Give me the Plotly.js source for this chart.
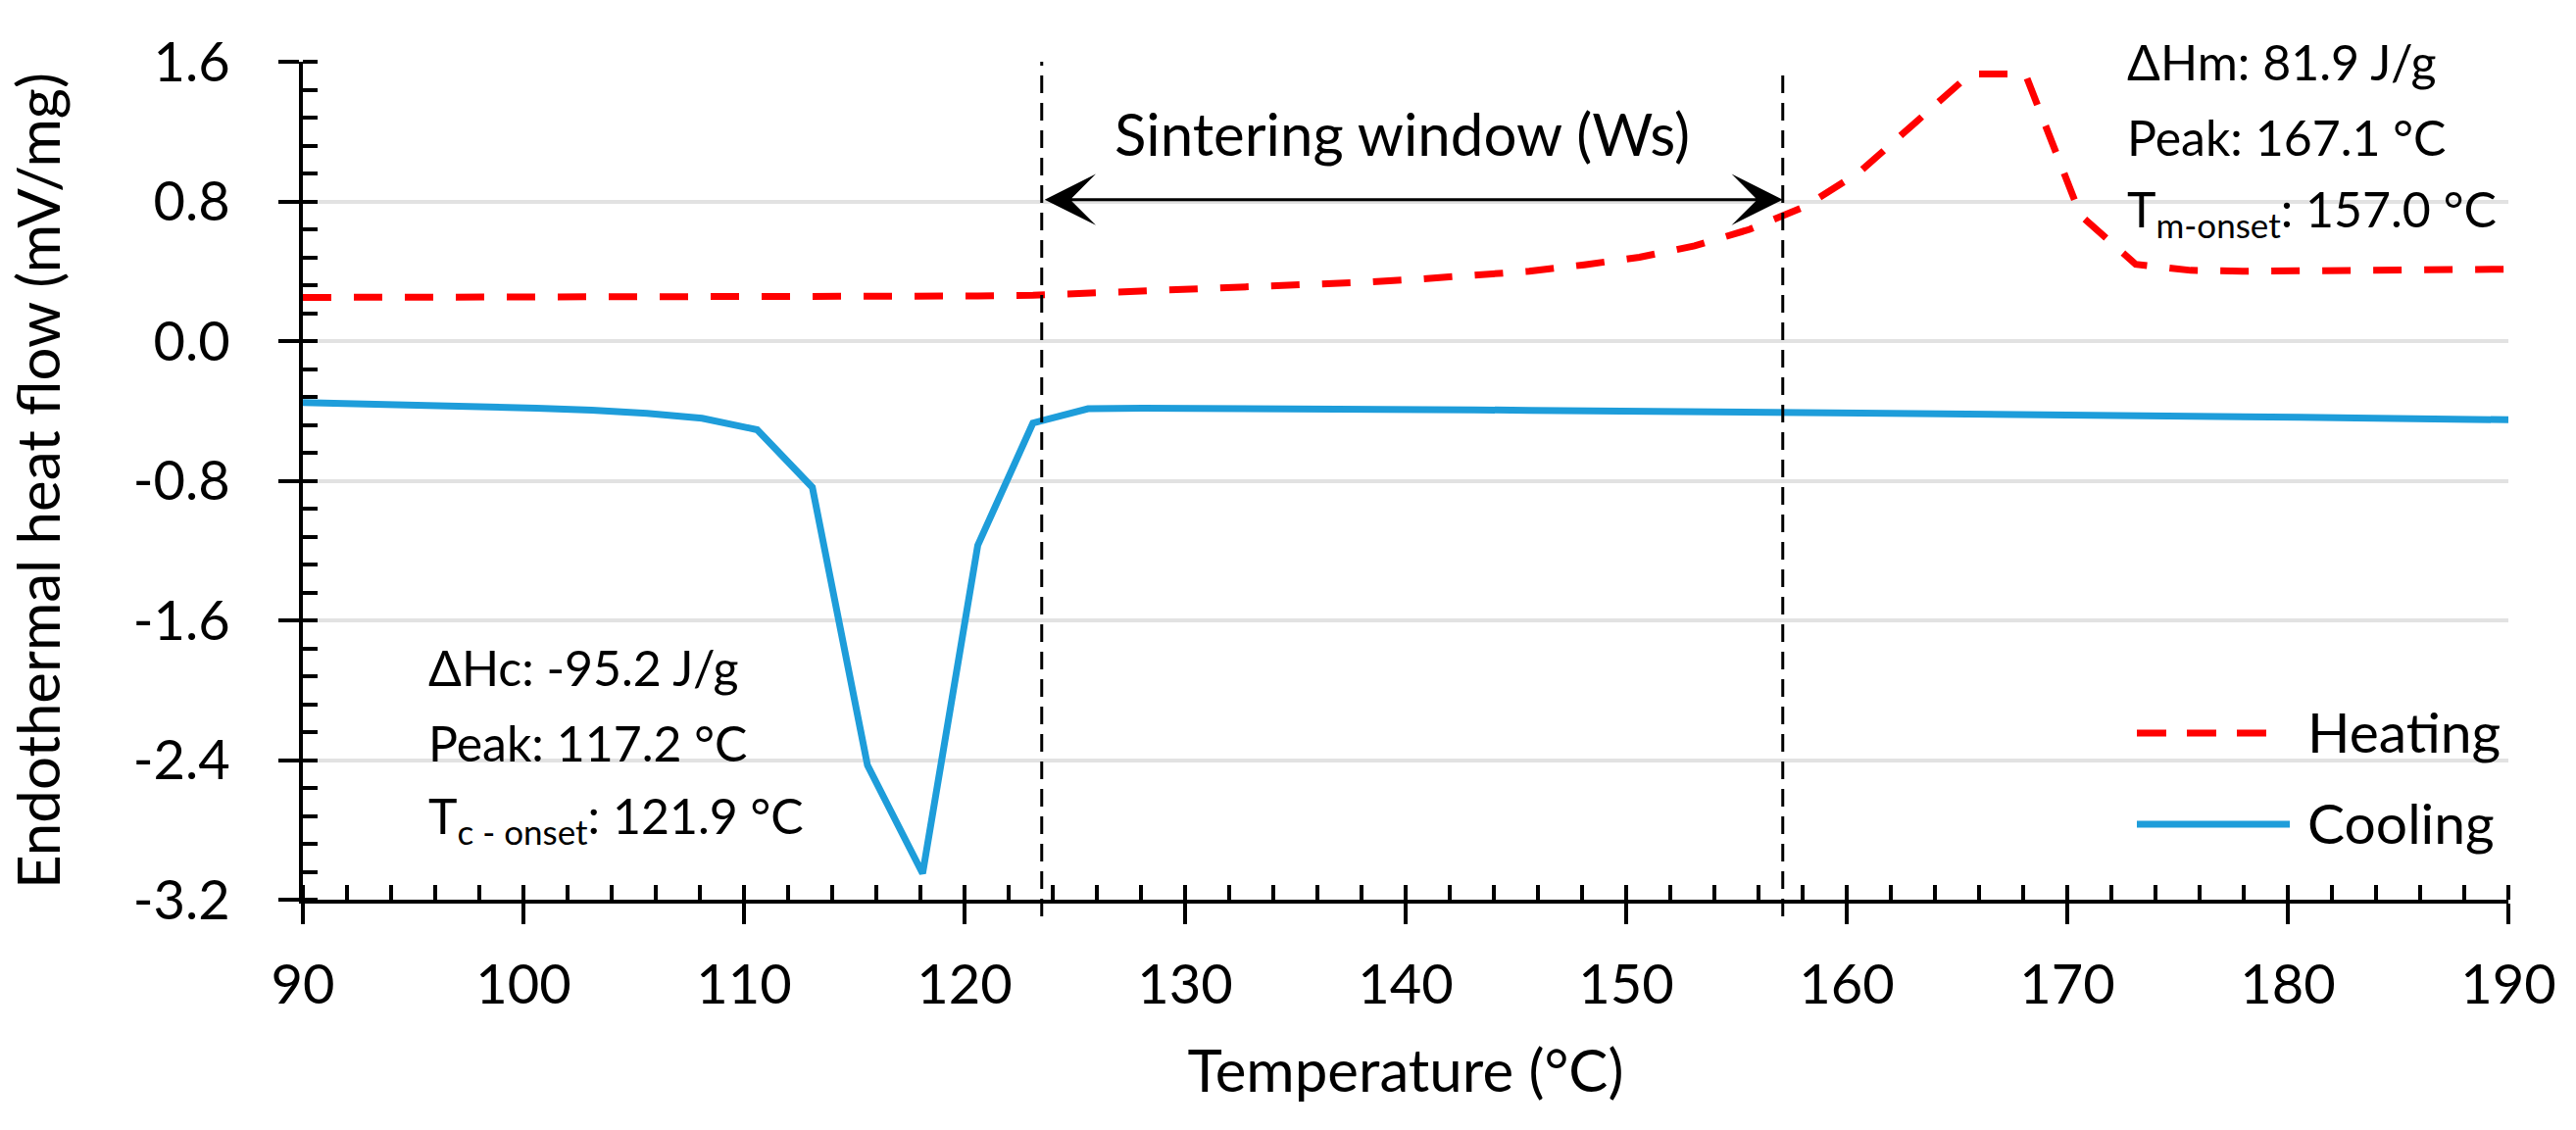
<!DOCTYPE html>
<html>
<head>
<meta charset="utf-8">
<script src="https://cdn.plot.ly/plotly-3.0.1.min.js"></script>
<style>
  html, body { margin: 0; padding: 0; background: #ffffff; }
  #chart { width: 2628px; height: 1153px; }
</style>
</head>
<body>
<div id="chart"></div>
<script>
// ---------------- DATA ----------------
const temperature = [90, 93.1, 95.6, 98.1, 100.6, 103.1, 105.6, 108.1, 110.6, 113.1, 115.6, 118.1, 120.6, 123.1, 125.6, 128.1, 130.6, 133.1, 135.6, 138.1, 140.6, 143.1, 145.6, 148.1, 150.6, 153.1, 155.6, 158.1, 160.6, 163.1, 165.6, 168.1, 170.6, 173.1, 175.6, 178.1, 180.6, 183.1, 185.6, 188.1, 190];
const heatingFlow = [0.250, 0.250, 0.251, 0.251, 0.252, 0.252, 0.253, 0.253, 0.254, 0.255, 0.256, 0.257, 0.258, 0.262, 0.274, 0.285, 0.296, 0.307, 0.321, 0.337, 0.355, 0.375, 0.400, 0.437, 0.480, 0.545, 0.640, 0.770, 0.970, 1.250, 1.530, 1.530, 0.720, 0.440, 0.405, 0.400, 0.402, 0.405, 0.407, 0.410, 0.412];
const coolingFlow = [-0.352, -0.360, -0.366, -0.376, -0.384, -0.396, -0.414, -0.442, -0.508, -0.838, -2.430, -3.050, -1.170, -0.470, -0.388, -0.385, -0.385, -0.386, -0.387, -0.389, -0.392, -0.394, -0.397, -0.398, -0.399, -0.400, -0.402, -0.405, -0.412, -0.415, -0.417, -0.419, -0.422, -0.425, -0.429, -0.433, -0.437, -0.441, -0.445, -0.448, -0.451];
const seriesNames = ["Heating", "Cooling"];
const yTickVals = [-3.2, -2.4, -1.6, -0.8, 0.0, 0.8, 1.6];
const yTickText = ["-3.2", "-2.4", "-1.6", "-0.8", "0.0", "0.8", "1.6"];
const windowStart = 123.5;   // sintering window limits (°C)
const windowEnd = 157.1;
const windowArrowLevel = 0.81;
const coolingStats = ["ΔHc: -95.2 J/g", "Peak: 117.2 °C", "T<sub>c - onset</sub>: 121.9 °C"];
const heatingStats = ["ΔHm: 81.9 J/g", "Peak: 167.1 °C", "T<sub>m-onset</sub>: 157.0 °C"];

// ---------------- LAYOUT HELPERS ----------------
const W = 2628, H = 1153;
const L = 309, R = 69, T = 63, B = 235;
const PW = W - L - R, PH = H - T - B;
const px = xp => (xp - L) / PW;
const py = yp => (H - B - yp) / PH;

const FONT = "Lato, 'Open Sans', sans-serif";
const heatColor = "#FF0000";
const coolColor = "#1E9DDA";

const traces = [
  { x: temperature, y: heatingFlow, name: seriesNames[0], type: "scatter", mode: "lines",
    line: { color: heatColor, width: 7, dash: "29px,23px" }, showlegend: false },
  { x: temperature, y: coolingFlow, name: seriesNames[1], type: "scatter", mode: "lines",
    line: { color: coolColor, width: 7 }, showlegend: false }
];

const annotations = [];
// sintering window arrow
annotations.push({
  x: windowEnd, y: windowArrowLevel, ax: windowStart, ay: windowArrowLevel,
  xref: "x", yref: "y", axref: "x", ayref: "y", text: " ", showarrow: true,
  arrowside: "end+start", arrowhead: 3, startarrowhead: 3, arrowsize: 2.9, startarrowsize: 2.9,
  arrowwidth: 3, arrowcolor: "#000", standoff: 0, startstandoff: 0
});
annotations.push({
  x: px(1430), y: py(136), xref: "paper", yref: "paper", xanchor: "center", yanchor: "middle",
  text: "Sintering window (Ws)", showarrow: false, font: { family: FONT, size: 60, color: "#000" }
});
const leftY = [681, 758, 835], rightY = [63, 140, 216];
coolingStats.forEach((t, i) => annotations.push({
  x: px(435), y: py(leftY[i]), xref: "paper", yref: "paper", xanchor: "left", yanchor: "middle",
  text: t, showarrow: false, font: { family: FONT, size: 50, color: "#000" }
}));
heatingStats.forEach((t, i) => annotations.push({
  x: px(2168), y: py(rightY[i]), xref: "paper", yref: "paper", xanchor: "left", yanchor: "middle",
  text: t, showarrow: false, font: { family: FONT, size: 50, color: "#000" }
}));
// legend text
annotations.push({ x: px(2352), y: py(746), xref: "paper", yref: "paper", xanchor: "left", yanchor: "middle",
  text: seriesNames[0], showarrow: false, font: { family: FONT, size: 57, color: "#000" } });
annotations.push({ x: px(2352), y: py(839), xref: "paper", yref: "paper", xanchor: "left", yanchor: "middle",
  text: seriesNames[1], showarrow: false, font: { family: FONT, size: 57, color: "#000" } });

const shapes = [
  { type: "line", xref: "x", yref: "paper", x0: windowStart, x1: windowStart, y0: -0.02, y1: 1,
    line: { color: "#000", width: 3, dash: "18px,10px" } },
  { type: "line", xref: "x", yref: "paper", x0: windowEnd, x1: windowEnd, y0: -0.02, y1: 0.994,
    line: { color: "#000", width: 3, dash: "18px,10px" } },
  // legend samples
  { type: "line", xref: "paper", yref: "paper", x0: px(2180), x1: px(2312), y0: py(748), y1: py(748),
    line: { color: heatColor, width: 7, dash: "30px,21px" } },
  { type: "line", xref: "paper", yref: "paper", x0: px(2180), x1: px(2336), y0: py(841), y1: py(841),
    line: { color: coolColor, width: 7 } }
];

const tickFont = { family: FONT, size: 56, color: "#000" };

const layout = {
  width: W, height: H,
  margin: { l: L, r: R, t: T, b: B, pad: 0 },
  paper_bgcolor: "#fff", plot_bgcolor: "#fff",
  showlegend: false,
  font: { family: FONT, color: "#000" },
  xaxis: {
    range: [90, 190], tickmode: "linear", tick0: 90, dtick: 10,
    ticks: "outside", ticklen: 21, tickwidth: 4, tickcolor: "#000",
    showline: true, linewidth: 4, linecolor: "#000", mirror: false,
    showgrid: false, zeroline: false,
    tickfont: tickFont, ticklabelstandoff: 14,
    minor: { tickmode: "linear", tick0: 90, dtick: 2, ticks: "inside", ticklen: 15, tickwidth: 4, tickcolor: "#000", showgrid: false },
    title: { text: "Temperature (°C)", font: { family: FONT, size: 60, color: "#000" }, standoff: 38 },
    automargin: false
  },
  yaxis: {
    range: [-3.2, 1.6], tickmode: "array", tickvals: yTickVals, ticktext: yTickText,
    ticks: "outside", ticklen: 21, tickwidth: 4, tickcolor: "#000",
    showline: true, linewidth: 4, linecolor: "#000",
    showgrid: true, gridcolor: "#E2E2E2", gridwidth: 4, zeroline: false,
    tickfont: tickFont, ticklabelstandoff: 38,
    minor: { tickmode: "linear", tick0: -3.2, dtick: 0.16, ticks: "inside", ticklen: 15, tickwidth: 4, tickcolor: "#000", showgrid: false },
    title: { text: "Endothermal heat flow (mV/mg)", font: { family: FONT, size: 60, color: "#000" }, standoff: 56 },
    automargin: false
  },
  xaxis2: {
    overlaying: "x", anchor: "y", side: "bottom", range: [90, 190], tickmode: "linear", tick0: 90, dtick: 10,
    ticks: "inside", ticklen: 21, tickwidth: 4, tickcolor: "#000", showticklabels: false,
    showline: false, showgrid: false, zeroline: false
  },
  yaxis2: {
    overlaying: "y", anchor: "x", side: "left", range: [-3.2, 1.6], tickmode: "array", tickvals: yTickVals,
    ticks: "inside", ticklen: 21, tickwidth: 4, tickcolor: "#000", showticklabels: false,
    showline: false, showgrid: false, zeroline: false
  },
  annotations: annotations,
  shapes: shapes
};

Plotly.newPlot("chart", traces, layout, { staticPlot: true, displayModeBar: false });
</script>
</body>
</html>
